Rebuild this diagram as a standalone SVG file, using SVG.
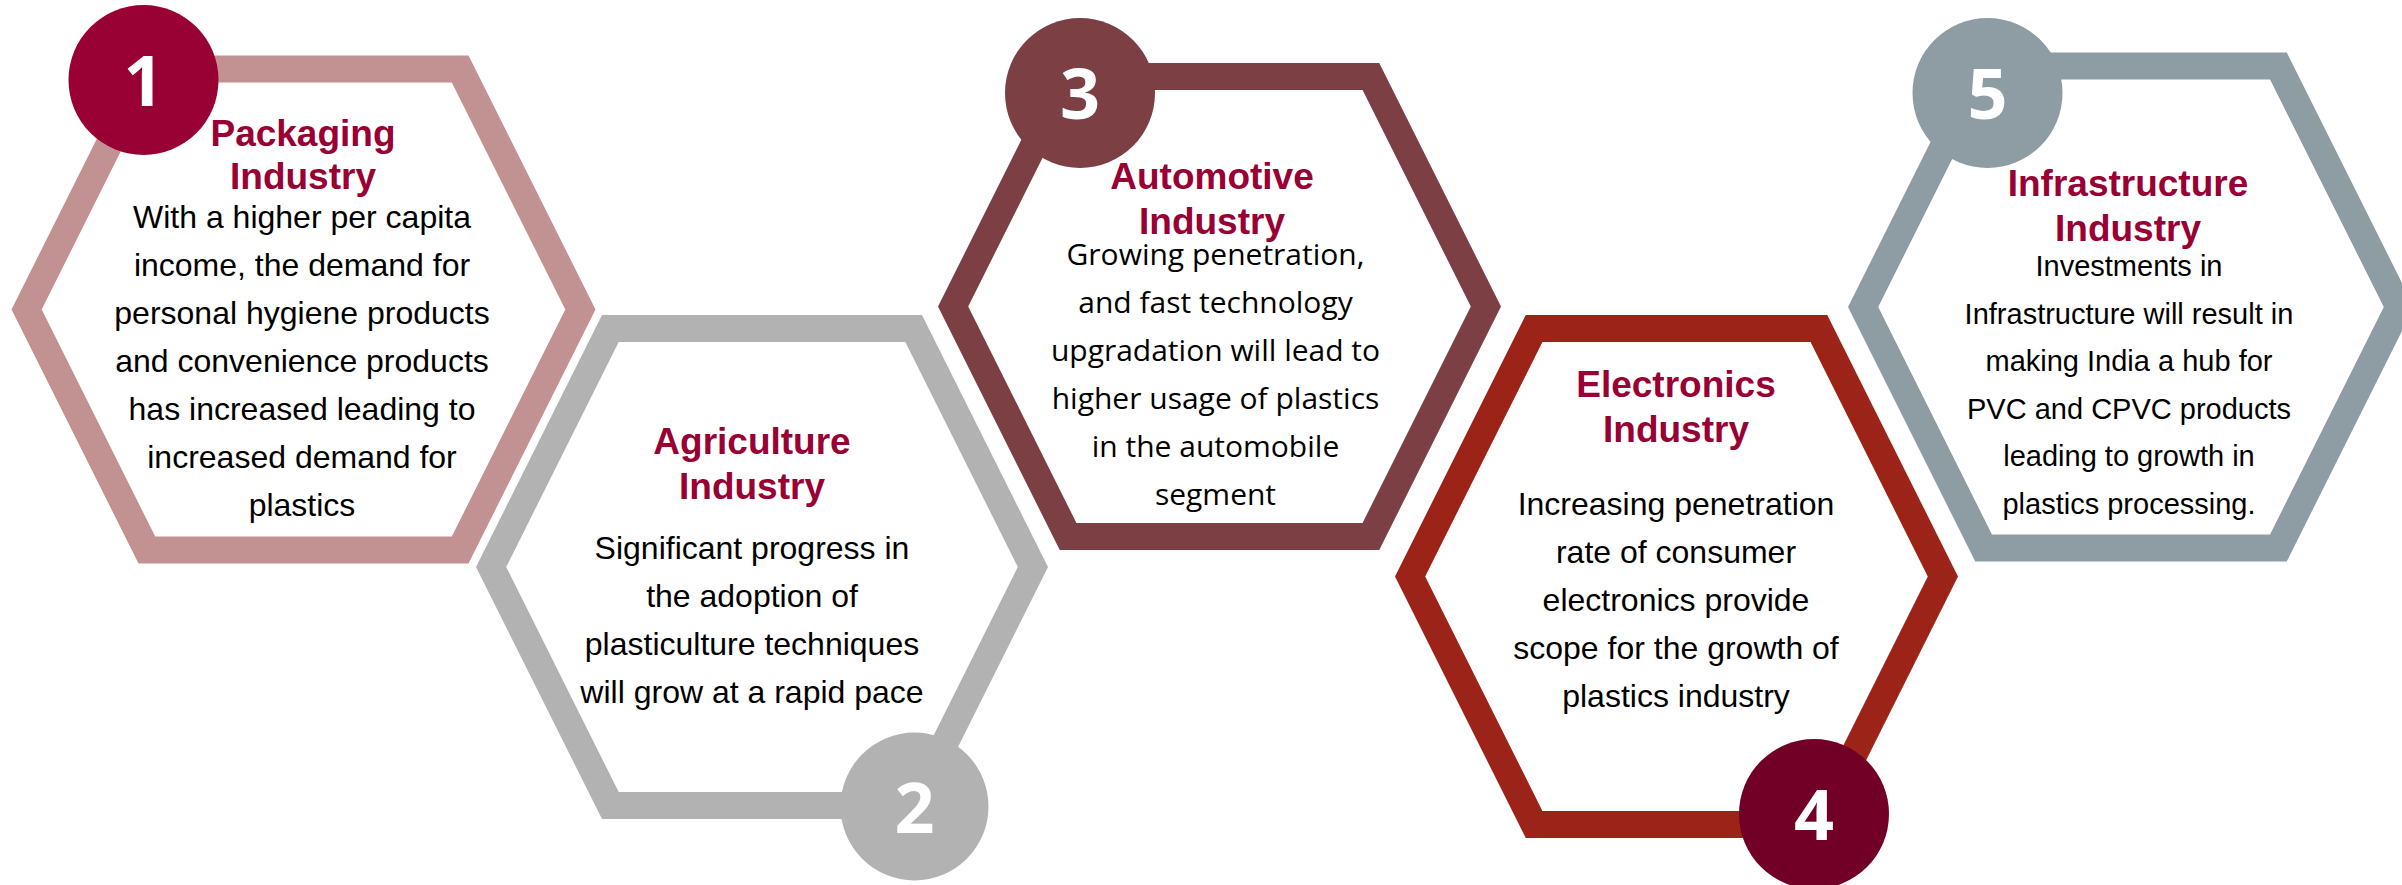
<svg xmlns="http://www.w3.org/2000/svg" width="2402" height="885" viewBox="0 0 2402 885">
<style>
.hex{fill-rule:evenodd}
.title{font-family:"Liberation Sans",Arial,sans-serif;font-weight:bold;font-size:37px;fill:#990033;text-anchor:middle}
.body{font-family:"Liberation Sans",Arial,sans-serif;font-size:32px;fill:#000;text-anchor:middle}
.body5{font-family:"Liberation Sans",Arial,sans-serif;font-size:29px;fill:#000;text-anchor:middle}
.body2{font-family:"Open Sans",sans-serif;font-size:30px;fill:#000;text-anchor:middle}
.num{font-family:"Open Sans",sans-serif;font-weight:bold;font-size:70px;fill:#fff;text-anchor:middle}
</style>
<rect width="2402" height="885" fill="#fff"/>
<g id="connectors"></g>
<g id="node1">
<path class="hex" fill="#c29292" d="M11.5,309.5 L138.5,55.5 L468.5,55.5 L595.5,309.5 L468.5,563.5 L138.5,563.5 Z M41.7,309.5 L155.2,82.5 L451.8,82.5 L565.3,309.5 L451.8,536.5 L155.2,536.5 Z"/>
</g>
<g id="node2">
<path class="hex" fill="#b2b2b2" d="M476,567 L602,315 L922,315 L1048,567 L922,819 L602,819 Z M506.2,567 L618.7,342 L905.3,342 L1017.8,567 L905.3,792 L618.7,792 Z"/>
</g>
<g id="node3">
<path class="hex" fill="#7b3f44" d="M938,306.5 L1059.75,63 L1379.25,63 L1501,306.5 L1379.25,550 L1059.75,550 Z M968.2,306.5 L1076.45,90 L1362.55,90 L1470.8,306.5 L1362.55,523 L1076.45,523 Z"/>
</g>
<g id="node4">
<path class="hex" fill="#9c2318" d="M1395,576.5 L1525.75,315 L1827.25,315 L1958,576.5 L1827.25,838 L1525.75,838 Z M1425.2,576.5 L1542.45,342 L1810.55,342 L1927.8,576.5 L1810.55,811 L1542.45,811 Z"/>
</g>
<g id="node5">
<path class="hex" fill="#8d9da3" d="M1848,307 L1975.25,52.5 L2286.75,52.5 L2414,307 L2286.75,561.5 L1975.25,561.5 Z M1878.2,307 L1991.95,79.5 L2270.05,79.5 L2383.8,307 L2270.05,534.5 L1991.95,534.5 Z"/>
</g>
<g id="badge1"><circle cx="143.5" cy="80" r="75" fill="#990033"/><text class="num" x="143.5" y="106">1</text></g>
<g id="badge2"><circle cx="914.5" cy="806.5" r="74" fill="#b2b2b2"/><text class="num" x="914.5" y="832.5">2</text></g>
<g id="badge3"><circle cx="1080" cy="93" r="75" fill="#7b3f44"/><text class="num" x="1080" y="118.5">3</text></g>
<g id="badge4"><circle cx="1814" cy="814" r="75" fill="#720026"/><text class="num" x="1814" y="840">4</text></g>
<g id="badge5"><circle cx="1987.5" cy="93" r="75" fill="#8d9da3"/><text class="num" x="1987.5" y="118.5">5</text></g>
<g id="text1">
<text class="title" x="303" y="146">Packaging</text>
<text class="title" x="303" y="189">Industry</text>
<text class="body" x="302" y="228">With a higher per capita</text>
<text class="body" x="302" y="276">income, the demand for</text>
<text class="body" x="302" y="324">personal hygiene products</text>
<text class="body" x="302" y="372">and convenience products</text>
<text class="body" x="302" y="420">has increased leading to</text>
<text class="body" x="302" y="468">increased demand for</text>
<text class="body" x="302" y="516">plastics</text>
</g>
<g id="text2">
<text class="title" x="752" y="454">Agriculture</text>
<text class="title" x="752" y="499">Industry</text>
<text class="body" x="752" y="559">Significant progress in</text>
<text class="body" x="752" y="607">the adoption of</text>
<text class="body" x="752" y="655">plasticulture techniques</text>
<text class="body" x="752" y="703">will grow at a rapid pace</text>
</g>
<g id="text3">
<text class="title" x="1212" y="189">Automotive</text>
<text class="title" x="1212" y="234">Industry</text>
<text class="body2" x="1215.5" y="265">Growing penetration,</text>
<text class="body2" x="1215.5" y="313">and fast technology</text>
<text class="body2" x="1215.5" y="361">upgradation will lead to</text>
<text class="body2" x="1215.5" y="409">higher usage of plastics</text>
<text class="body2" x="1215.5" y="457">in the automobile</text>
<text class="body2" x="1215.5" y="505">segment</text>
</g>
<g id="text4">
<text class="title" x="1676" y="397">Electronics</text>
<text class="title" x="1676" y="442">Industry</text>
<text class="body" x="1676" y="515">Increasing penetration</text>
<text class="body" x="1676" y="563">rate of consumer</text>
<text class="body" x="1676" y="611">electronics provide</text>
<text class="body" x="1676" y="659">scope for the growth of</text>
<text class="body" x="1676" y="707">plastics industry</text>
</g>
<g id="text5">
<text class="title" x="2128" y="196">Infrastructure</text>
<text class="title" x="2128" y="241">Industry</text>
<text class="body5" x="2129" y="276">Investments in</text>
<text class="body5" x="2129" y="324">Infrastructure will result in</text>
<text class="body5" x="2129" y="371">making India a hub for</text>
<text class="body5" x="2129" y="419">PVC and CPVC products</text>
<text class="body5" x="2129" y="466">leading to growth in</text>
<text class="body5" x="2129" y="514">plastics processing.</text>
</g>
</svg>
